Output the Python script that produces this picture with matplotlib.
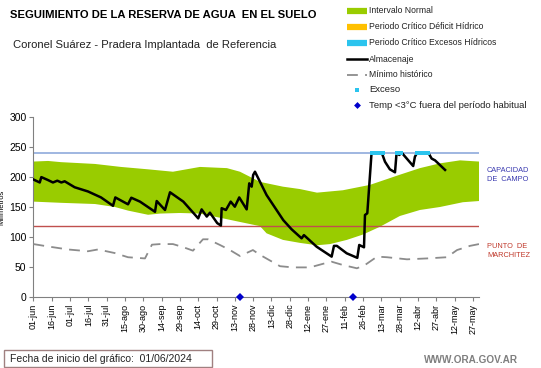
import numpy as np
import matplotlib.pyplot as plt

plt.rcParams['font.family'] = ['Liberation Sans', 'DejaVu Sans']

# Días desde 01/06/2024
tick_labels = ['01-jun', '16-jun', '01-jul', '16-jul', '31-jul', '15-ago', '30-ago',
               '14-sep', '29-sep', '14-oct', '29-oct', '13-nov', '28-nov', '13-dic',
               '28-dic', '12-ene', '27-ene', '11-feb', '26-feb', '13-mar', '28-mar',
               '12-abr', '27-abr', '12-may', '27-may']

capacidad_campo = 241
punto_marchitez = 118

# Intervalo normal (límite superior e inferior)
sup_dias = [0, 12, 22.6, 50.4, 71.7, 93.9, 114.3, 136.4, 158.5, 169.2, 185.6, 204.4,
            218.3, 232.3, 253.5, 275.7, 300.2, 316.6, 333, 349.4, 365]
sup_vals = [226, 227, 225, 222, 217, 213, 209, 217, 215, 209, 192, 184,
            180, 174, 178, 187, 204, 215, 223, 228, 226]
inf_dias = [0, 22.6, 50.4, 66.8, 77.5, 93.9, 103.7, 120, 136.4, 155.3, 169.2, 185.6,
            191, 204.4, 218.3, 232.3, 243, 256.8, 270, 283.9, 300.2, 316.6, 333, 351.8, 365]
inf_vals = [159, 157, 155, 150, 144, 137, 139, 140, 139, 131, 125, 118,
            106, 95, 90, 86, 88, 95, 104, 117, 135, 145, 150, 158, 160]

# Almacenaje
alm_dias = [0, 5.2, 6.5, 12, 16, 19.6, 22.9, 25.6, 33.8, 44.7, 55.4, 65.2, 67.1, 77.5,
            80.2, 87.3, 99.6, 101, 107.8, 111.9, 122.8, 135, 137.8, 142, 144.6, 150.6,
            153.6, 154.2, 157.7, 161.6, 165, 168.6, 174.7, 176.8, 178.8, 180, 181.5,
            191, 204.7, 211.5, 219.7, 221.6, 232, 244.3, 246.2, 248.6, 256.6, 265.3,
            266.9, 270.8, 271.6, 273.5, 277, 285.3, 288, 292, 296.2, 297.5, 299.7,
            301.6, 311.1, 312.5, 314.4, 323.4, 326.2, 329, 337.2]
alm_vals = [196, 191, 200, 195, 191, 194, 191, 193, 183, 176, 166, 152, 166, 154.5,
            165.5, 159, 142, 160, 145, 174.6, 159, 131, 146, 134, 140.5, 123,
            119, 148, 145, 159, 150.5, 166, 146, 189.6, 184, 203.5, 209,
            170, 128, 112.7, 97.6, 103, 83.6, 67, 85, 85, 72.6, 65,
            86.5, 82.6, 136.6, 139.5, 241, 241, 225.7, 213, 208, 241, 237,
            241, 218.5, 234, 241, 241, 231, 228, 212]

# Mínimo histórico
min_dias = [0, 12, 28.3, 44.7, 52.9, 66.6, 77.5, 91.4, 97.1, 103.7, 114.3, 122.5,
            130.7, 138.9, 143, 152.8, 161, 169.2, 179.8, 185.6, 202, 212.6, 226.5,
            237.2, 244.3, 253.5, 265, 271.6, 281.5, 289.6, 306, 322.4, 338.7, 347,
            357.6, 365]
min_vals = [88, 84, 79, 76, 79, 73, 66, 64, 87, 88, 88, 83,
            77, 96, 96, 86.5, 78, 68, 78, 70, 51, 49, 49,
            55, 58.5, 53, 47.5, 53, 67, 66, 62.5, 64, 66, 78,
            85, 88]

# Excesos hídricos
exceso_dias = [277, 278, 279, 280, 281, 282, 283, 284, 285, 286,
               298, 299, 300, 301, 314, 315, 316, 317, 318, 319, 320, 321, 322, 323]

# Temp < 3°C fuera del período habitual
frio_dias = [169, 261.5]

verde = '#99CC00'
cian = '#2BC4EE'
amarillo = '#FFC000'

fig = plt.figure(figsize=(5.41, 3.68), dpi=100)
ax = fig.add_axes([33.4 / 541, 1 - 296.7 / 368, (479 - 33.4) / 541, (296.7 - 117.3) / 368])

ax.fill(np.r_[sup_dias, inf_dias[::-1]], np.r_[sup_vals, inf_vals[::-1]],
        color=verde, lw=0, zorder=1)
ax.axhline(capacidad_campo, color='#8FAADC', lw=1.2, zorder=2)
ax.axhline(punto_marchitez, color='#C0504D', lw=1.0, zorder=2)
ax.plot(min_dias, min_vals, color='#8C8C8C', lw=1.3, dashes=(6, 4), zorder=3)
ax.plot(alm_dias, alm_vals, color='black', lw=1.8, zorder=4)
ax.plot(exceso_dias, [capacidad_campo] * len(exceso_dias), 's', color=cian,
        ms=3.2, mew=0, zorder=5)
ax.plot(frio_dias, [0] * len(frio_dias), 'D', color='#0000CC', ms=4.5, mew=0,
        zorder=6, clip_on=False)

ax.set_xlim(0, 365)
ax.set_ylim(0, 300)
ax.set_yticks(range(0, 301, 50))
ax.set_xticks(np.arange(len(tick_labels)) * 15)
ax.set_xticklabels(tick_labels, rotation=90, fontsize=6.5)
ax.tick_params(axis='y', labelsize=7.5, length=3, color='#808080', pad=2)
ax.tick_params(axis='x', length=3, color='#808080', pad=2)
for s in ['top', 'right']:
    ax.spines[s].set_visible(False)
for s in ['left', 'bottom']:
    ax.spines[s].set_color('#808080')
ax.set_ylabel('Milímetros', fontsize=5.5)
ax.yaxis.set_label_coords(-0.062, 0.5)

# overlay en píxeles para textos y leyenda
ov = fig.add_axes([0, 0, 1, 1], zorder=-1)
ov.set_xlim(0, 541)
ov.set_ylim(368, 0)
ov.axis('off')

ov.text(10, 15, 'SEGUIMIENTO DE LA RESERVA DE AGUA  EN EL SUELO', fontsize=8.1,
        fontweight='bold', va='center')
ov.text(13, 45, 'Coronel Suárez - Pradera Implantada  de Referencia', fontsize=8.1,
        va='center', color='#222222')

ley_y = [10.7, 26.7, 42.7, 59.3, 74.5, 89.5, 105]
ley_txt = ['Intervalo Normal', 'Periodo Crítico Déficit Hídrico',
           'Periodo Crítico Excesos Hídricos', 'Almacenaje', 'Mínimo histórico',
           'Exceso', 'Temp <3°C fuera del período habitual']
for yy, c in zip(ley_y[:3], [verde, amarillo, cian]):
    ov.plot([347, 367], [yy, yy], color=c, lw=4.5, solid_capstyle='butt')
ov.plot([347, 367], [ley_y[3]] * 2, color='black', lw=1.8)
ov.plot([347, 367], [ley_y[4]] * 2, color='#8C8C8C', lw=1.3, dashes=(6, 4))
ov.plot([357], [ley_y[5]], 's', color=cian, ms=2.5, mew=0)
ov.plot([357], [ley_y[6]], 'D', color='#0000CC', ms=3.5, mew=0)
for i, (yy, t) in enumerate(zip(ley_y, ley_txt)):
    ov.text(369, yy, t, fontsize=6.2 if i < 5 else 6.8,
            va='center', color='#222222')

ov.text(487, 175, 'CAPACIDAD\nDE  CAMPO', fontsize=5.3, color='#3A3AB0',
        va='center', linespacing=1.4)
ov.text(487, 251, 'PUNTO  DE\nMARCHITEZ', fontsize=5.3, color='#C0392B',
        va='center', linespacing=1.4)

ov.add_patch(plt.Rectangle((4, 350), 208, 17, fill=False, ec='#A08080', lw=1))
ov.text(10, 359.5, 'Fecha de inicio del gráfico:  01/06/2024', fontsize=7.5,
        va='center', color='#222222')
ov.text(424, 360, 'WWW.ORA.GOV.AR', fontsize=7.2, va='center', color='#7F7F7F',
        fontweight='bold')

fig.savefig('out.png', dpi=100)
